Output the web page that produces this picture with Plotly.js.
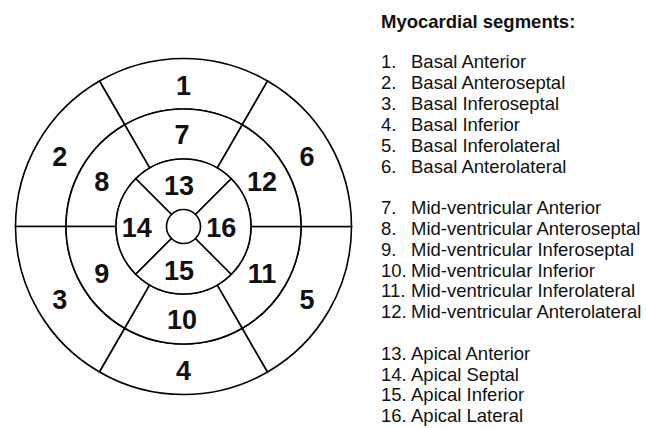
<!DOCTYPE html>
<html>
<head>
<meta charset="utf-8">
<script src="https://cdn.plot.ly/plotly-3.0.1.min.js"></script>
<style>html,body{margin:0;padding:0;background:#fff;}#chart{width:646px;height:428px;}</style>
</head>
<body>
<div id="chart"></div>
<script>
// ---- data ----
const basalSegments = [1, 2, 3, 4, 5, 6];
const midSegments = [7, 8, 9, 10, 11, 12];
const apicalSegments = [13, 14, 15, 16];
const legendTitle = "Myocardial segments:";
const segmentNumbers = ["1.", "2.", "3.", "4.", "5.", "6.", "7.", "8.", "9.", "10.", "11.", "12.", "13.", "14.", "15.", "16."];
const segmentNames = [
  "Basal Anterior", "Basal Anteroseptal", "Basal Inferoseptal", "Basal Inferior",
  "Basal Inferolateral", "Basal Anterolateral",
  "Mid-ventricular Anterior", "Mid-ventricular Anteroseptal", "Mid-ventricular Inferoseptal",
  "Mid-ventricular Inferior", "Mid-ventricular Inferolateral", "Mid-ventricular Anterolateral",
  "Apical Anterior", "Apical Septal", "Apical Inferior", "Apical Lateral"
];

// ---- geometry (layout only) ----
const W = 646, H = 428;
const CX = 183.5, CY = 226.5, RMAX = 170;
const rings = [
  {segs: basalSegments, inner: 117.5, outer: 168, dx: 0, dy: -4},
  {segs: midSegments, inner: 67.5, outer: 117.5, dx: -1.5, dy: -3.5},
  {segs: apicalSegments, inner: 17, outer: 67.5, dx: -4.5, dy: -4}
];
const FONT = "Liberation Sans, Arial, Helvetica, sans-serif";

const traces = [];
const lblR = [], lblT = [], lblTxt = [];
rings.forEach(ring => {
  const n = ring.segs.length;
  const step = 360 / n;
  const thetas = ring.segs.map((s, i) => 90 + i * step);
  traces.push({
    type: 'barpolar',
    r: ring.segs.map(() => ring.outer - ring.inner),
    base: ring.segs.map(() => ring.inner),
    theta: thetas,
    width: ring.segs.map(() => step),
    marker: {color: '#ffffff', line: {color: '#000000', width: 1.6}},
    hoverinfo: 'skip'
  });
  const rm = (ring.inner + ring.outer) / 2;
  ring.segs.forEach((s, i) => {
    const t = thetas[i] * Math.PI / 180;
    const x = rm * Math.cos(t) + ring.dx;
    const y = rm * Math.sin(t) + ring.dy;
    lblR.push(Math.hypot(x, y));
    lblT.push(Math.atan2(y, x) * 180 / Math.PI);
    lblTxt.push(String(s));
  });
});
traces.push({
  type: 'scatterpolar',
  mode: 'text',
  r: lblR,
  theta: lblT,
  text: lblTxt,
  textposition: 'middle center',
  textfont: {family: FONT, size: 27, color: '#111111', weight: 700},
  hoverinfo: 'skip'
});

// ---- legend as annotations ----
const annotations = [];
const px = x => x / W, py = y => 1 - y / H;
annotations.push({
  xref: 'paper', yref: 'paper', x: px(379), y: py(21), xanchor: 'left', yanchor: 'middle',
  text: legendTitle, showarrow: false,
  font: {family: FONT, size: 18.5, color: '#111111', weight: 700}
});
segmentNames.forEach((name, i) => {
  const line = i + (i >= 6 ? 1 : 0) + (i >= 12 ? 1 : 0);
  const y = 62 + line * 20.8;
  annotations.push({
    xref: 'paper', yref: 'paper', x: px(379), y: py(y), xanchor: 'left', yanchor: 'middle',
    text: segmentNumbers[i], showarrow: false,
    font: {family: FONT, size: 18.5, color: '#111111'}
  });
  annotations.push({
    xref: 'paper', yref: 'paper', x: px(409), y: py(y), xanchor: 'left', yanchor: 'middle',
    text: name, showarrow: false,
    font: {family: FONT, size: 18.5, color: '#111111'}
  });
});

const layout = {
  width: W, height: H,
  margin: {l: 0, r: 0, t: 0, b: 0, pad: 0},
  paper_bgcolor: '#ffffff',
  showlegend: false,
  polar: {
    domain: {x: [(CX - RMAX) / W, (CX + RMAX) / W], y: [1 - (CY + RMAX) / H, 1 - (CY - RMAX) / H]},
    bgcolor: '#ffffff',
    bargap: 0,
    radialaxis: {range: [0, RMAX], visible: false, showgrid: false},
    angularaxis: {visible: false, showgrid: false, rotation: 0, direction: 'counterclockwise'}
  },
  annotations: annotations
};

Plotly.newPlot('chart', traces, layout, {displayModeBar: false, staticPlot: true});
</script>
</body>
</html>
